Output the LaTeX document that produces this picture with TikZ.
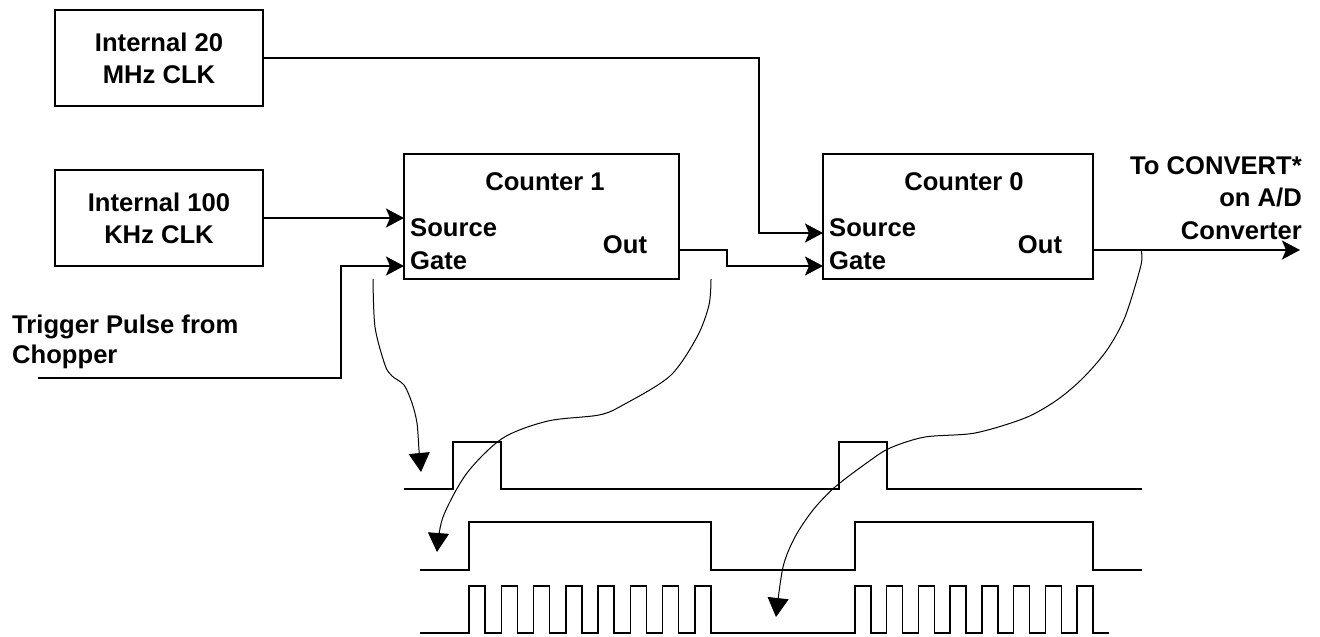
\documentclass[tikz,border=0pt]{standalone}
\usepackage{fontspec}
\setmainfont{Liberation Sans}
\usetikzlibrary{arrows.meta,calc}
\begin{document}
\begin{tikzpicture}[x=1pt,y=-1pt,
  lbl/.style={font=\bfseries\fontsize{25.6}{32}\selectfont, inner sep=0pt},
  blk/.style={draw, line width=1.5pt, inner sep=0pt, align=center, font=\bfseries\fontsize{25.6}{32}\selectfont},
  sig/.style={line width=1.5pt},
  conn/.style={line width=1.5pt, -{Stealth[length=18pt,width=19pt,inset=4pt]}},
  curv/.style={line width=1pt, -{Triangle[length=19pt,width=21pt]}}]
\useasboundingbox (0,0) rectangle (1320,637);
% clock boxes
\node[blk, minimum width=208pt, minimum height=96pt] (clk20) at (159,58) {Internal 20\\MHz CLK};
\node[blk, minimum width=208pt, minimum height=96pt] (clk100) at (159,218) {Internal 100\\KHz CLK};
% counters
\node[blk, minimum width=275pt, minimum height=125pt] (c1) at (541.5,216.5) {};
\node[blk, minimum width=270pt, minimum height=125pt] (c0) at (958,216.5) {};
\node[lbl] (c1t) at (545,182) {Counter 1};
\node[lbl, anchor=west] (c1s) at (410,228) {Source};
\node[lbl, anchor=west] (c1g) at (410,261) {Gate};
\node[lbl] (c1o) at (625,245) {Out};
\node[lbl] (c0t) at (964,182) {Counter 0};
\node[lbl, anchor=west] (c0s) at (829,228) {Source};
\node[lbl, anchor=west] (c0g) at (829,261) {Gate};
\node[lbl] (c0o) at (1040,245) {Out};
% labels
\node[lbl, anchor=west, align=left, font=\bfseries\fontsize{25.6}{30.5}\selectfont] (trigl) at (12,342) {Trigger Pulse from\\Chopper};
\node[lbl, anchor=east, align=right, font=\bfseries\fontsize{25.6}{32.5}\selectfont] (convl) at (1302,198) {To CONVERT*\\on A/D\\Converter};
% ports
\coordinate (c1src) at (404,218);
\coordinate (c1gate) at (404,266);
\coordinate (c1out) at (679,250);
\coordinate (c0src) at (823,233);
\coordinate (c0gate) at (823,266);
\coordinate (c0out) at (1093,250);
\coordinate (trig) at (38,378);
\coordinate (conv) at (1300,250);
% connectors
\draw[conn] (clk100.east) -- (c1src);
\draw[conn] (trig) -| (341,266) -- (c1gate);
\draw[conn] (clk20.east) -| (759,233) -- (c0src);
\draw[conn] (c1out) -| (727,266) -- (c0gate);
\draw[conn] (c0out) -- (conv);
% waveforms
\draw[sig] (404,489) -- (453,489) -- (453,442) -- (501,442) -- (501,489) -- (839,489) -- (839,442) -- (887,442) -- (887,489) -- (1142,489);
\draw[sig] (420,570) -- (469,570) -- (469,522) -- (711,522) -- (711,570) -- (855,570) -- (855,522) -- (1093,522) -- (1093,570) -- (1142,570);
\draw[sig] (420,633)
  \foreach \i in {0,...,7} { -- ({469+\i*32.29},633) -- ({469+\i*32.29},586) -- ({485+\i*32.29},586) -- ({485+\i*32.29},633) }
  \foreach \i in {0,...,7} { -- ({855+\i*31.71},633) -- ({855+\i*31.71},586) -- ({871+\i*31.71},586) -- ({871+\i*31.71},633) }
  -- (1109,633);
% curved arrows
\draw[curv] plot[smooth, tension=0.5] coordinates {(373,279) (375,327) (385,365) (392,376) (404,385) (412,403) (417,423) (419,450) (421,472)};
\draw[curv] plot[smooth, tension=0.5] coordinates {(711,279) (709,305) (697,337) (670,376) (623,405) (599,415) (548,421) (503,438) (467,473) (443,517) (437,552)};
\draw[curv] plot[smooth, tension=0.5] coordinates {(1141,250) (1141,265) (1125,317) (1107,350) (1083,378) (1057,400) (1025,418) (975,433) (925,437) (890,448) (868,462) (835,487) (813,510) (795,537) (783,567) (776,617)};
\end{tikzpicture}
\end{document}
